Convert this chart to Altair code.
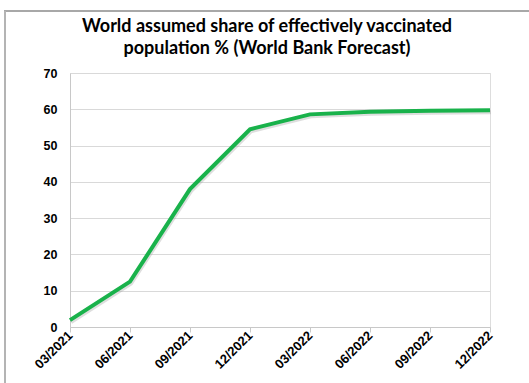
import altair as alt
import pandas as pd

# Quarterly forecast of the effectively vaccinated share of world population (%)
quarters = ["03/2021", "06/2021", "09/2021", "12/2021",
            "03/2022", "06/2022", "09/2022", "12/2022"]
share = [1.9, 12.5, 38.0, 54.5, 58.6, 59.3, 59.6, 59.7]

df = pd.DataFrame({"quarter": quarters, "share": share})

W, H = 420, 254

x_enc = alt.X(
    "quarter:O",
    sort=quarters,
    scale=alt.Scale(type="point", padding=0),
    axis=alt.Axis(
        title=None,
        labelAngle=-45,
        labelAlign="right",
        labelBaseline="middle",
        labelFont="Liberation Sans",
        labelFontWeight="bold",
        labelFontSize=13,
        labelColor="#000000",
        labelPadding=1,
        tickColor="#c8c8c8",
        tickSize=5,
        domainColor="#c8c8c8",
        grid=False,
    ),
)
y_enc = alt.Y(
    "share:Q",
    scale=alt.Scale(domain=[0, 70], nice=False),
    axis=alt.Axis(
        title=None,
        values=[0, 10, 20, 30, 40, 50, 60, 70],
        labelFont="Liberation Sans",
        labelFontWeight="bold",
        labelFontSize=12.5,
        labelColor="#000000",
        labelPadding=13,
        ticks=False,
        domainColor="#c8c8c8",
        gridColor="#d9d9d9",
        grid=True,
    ),
)

base = alt.Chart(df).encode(x=x_enc, y=y_enc)

shadow = base.mark_line(color="#a0a0a0", strokeWidth=4, opacity=0.35, yOffset=2, xOffset=1)
line = base.mark_line(color="#19b24b", strokeWidth=4, strokeJoin="miter")

# Outer frame: top and left edges of the chart box
frame_top = alt.Chart(df).mark_rule(color="#a8a8a8", strokeWidth=2).encode(
    x=alt.value(-66), x2=alt.value(W + 39), y=alt.value(-62)
)
frame_left = alt.Chart(df).mark_rule(color="#b4b4b4", strokeWidth=1.5).encode(
    x=alt.value(-65), y=alt.value(-62), y2=alt.value(H + 60)
)

chart = (
    alt.layer(frame_top, frame_left, shadow, line)
    .properties(
        width=W,
        height=H,
        title=alt.TitleParams(
            text=["World assumed share of effectively vaccinated",
                  "population  % (World Bank Forecast)"],
            font="Lato",
            fontWeight="bold",
            fontSize=18,
            color="#000000",
            anchor="middle",
            frame="group",
            baseline="bottom",
            dx=-13,
            dy=66,
            offset=0,
            lineHeight=22,
        ),
        padding={"left": 70, "top": 73, "right": 39, "bottom": 56},
        autosize=alt.AutoSizeParams(type="none"),
    )
    .configure_view(stroke=None)
    .configure(background="#ffffff")
)

chart.save("out.html", embed_options={"renderer": "svg", "actions": False})
